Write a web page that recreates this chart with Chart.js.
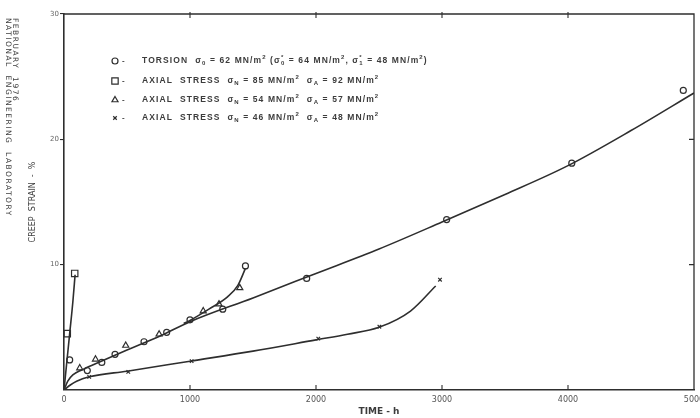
<!DOCTYPE html>
<html lang="en">
<head>
<meta charset="UTF-8">
<title>Creep strain vs time</title>
<script src="https://cdn.jsdelivr.net/npm/chart.js"></script>
<style>
  html, body { margin: 0; padding: 0; background: #fff; }
  #wrap { width: 700px; height: 418px; }
</style>
</head>
<body>
<div id="wrap"><canvas id="grafico"></canvas></div>
<script>
// --- data (time in h, creep strain in %) ---
// o  torsion, sigma0 = 62 MN/m2
const torsionTime   = [45, 185, 300, 405, 635, 815, 1000, 1260, 1440, 1926, 3037, 4030, 4915];
const torsionStrain = [2.4, 1.55, 2.2, 2.85, 3.85, 4.6, 5.6, 6.45, 9.9, 8.9, 13.6, 18.1, 23.9];
const torsionFitTime   = [0, 30, 70, 140, 250, 500, 750, 1000, 1500, 2000, 2500, 3000, 3500, 4000, 4500, 5000];
const torsionFitStrain = [0, 0.7, 1.2, 1.6, 2.1, 3.2, 4.25, 5.45, 7.35, 9.3, 11.25, 13.4, 15.6, 17.9, 20.7, 23.7];

// []  axial stress 85 / 92 MN/m2
const squareTime   = [26, 85];
const squareStrain = [4.5, 9.3];
const squareFitTime   = [0, 20, 45, 70, 88];
const squareFitStrain = [0, 2.0, 4.5, 7.0, 9.2];

// /\  axial stress 54 / 57 MN/m2
const triTime   = [125, 250, 490, 755, 1105, 1230, 1395];
const triStrain = [1.75, 2.45, 3.55, 4.45, 6.3, 6.85, 8.15];
const triFitTime   = [950, 1000, 1150, 1300, 1380, 1440];
const triFitStrain = [5.3, 5.55, 6.45, 7.45, 8.35, 9.7];

// x  axial stress 46 / 48 MN/m2
const crossTime   = [200, 510, 1013, 2018, 2503, 2984];
const crossStrain = [1.05, 1.45, 2.3, 4.1, 5.05, 8.8];
const crossFitTime   = [0, 50, 100, 200, 500, 1000, 1500, 2000, 2250, 2500, 2750, 2950];
const crossFitStrain = [0, 0.4, 0.7, 1.05, 1.5, 2.3, 3.1, 4.0, 4.45, 5.0, 6.3, 8.3];

const xTicks = [0, 1000, 2000, 3000, 4000, 5000];
const yTicks = [0, 10, 20, 30];

const ink = '#2e2e2e';
const txt = '#3c3c3c';
const pts = (xs, ys) => xs.map((x, i) => ({ x: x, y: ys[i] }));

function curve(xs, ys) {
    return {
        data: pts(xs, ys), showLine: true, pointRadius: 0,
        borderColor: ink, borderWidth: 1.6,
        cubicInterpolationMode: 'monotone'
    };
}
function marks(xs, ys, style, r) {
    return {
        data: pts(xs, ys), showLine: false, pointStyle: style,
        pointRadius: r, pointBorderWidth: 1.2,
        borderColor: ink, backgroundColor: 'rgba(0,0,0,0)'
    };
}

// legend rows: parts are plain text, {sub}, {sup}
const legendRows = [
    { style: 'circle', r: 3, parts: ['TORSION  σ', {sub: '0'}, ' = 62 MN/m', {sup: '2'}, ' (σ', {sub: '0', sup: '*'}, ' = 64 MN/m', {sup: '2'}, ', σ', {sub: '1', sup: '*'}, ' = 48 MN/m', {sup: '2'}, ')'] },
    { style: 'rect', r: 4.5, parts: ['AXIAL  STRESS  σ', {sub: 'N'}, ' = 85 MN/m', {sup: '2'}, '  σ', {sub: 'A'}, ' = 92 MN/m', {sup: '2'}] },
    { style: 'triangle', r: 3.5, parts: ['AXIAL  STRESS  σ', {sub: 'N'}, ' = 54 MN/m', {sup: '2'}, '  σ', {sub: 'A'}, ' = 57 MN/m', {sup: '2'}] },
    { style: 'crossRot', r: 2.5, parts: ['AXIAL  STRESS  σ', {sub: 'N'}, ' = 46 MN/m', {sup: '2'}, '  σ', {sub: 'A'}, ' = 48 MN/m', {sup: '2'}] }
];

function drawRich(ctx, x, y, parts, px) {
    const big = 'bold ' + px + 'px "Liberation Sans"';
    const small = 'bold ' + Math.round(px * 0.72) + 'px "Liberation Sans"';
    parts.forEach(p => {
        if (typeof p === 'string') {
            ctx.font = big;
            ctx.fillText(p, x, y);
            x += ctx.measureText(p).width;
        } else {
            ctx.font = small;
            let w = 0;
            if (p.sub) { ctx.fillText(p.sub, x, y + px * 0.3); w = ctx.measureText(p.sub).width; }
            if (p.sup) { ctx.fillText(p.sup, x, y - px * 0.45); w = Math.max(w, ctx.measureText(p.sup).width); }
            x += w;
        }
    });
}

const extras = {
    id: 'extras',
    afterDraw(chart) {
        const ctx = chart.ctx;
        const {left, right, top, bottom} = chart.chartArea;
        const sx = chart.scales.x, sy = chart.scales.y;
        ctx.save();
        ctx.strokeStyle = ink;
        ctx.lineWidth = 1.3;
        // frame top + right
        ctx.beginPath();
        ctx.moveTo(left, top); ctx.lineTo(right, top); ctx.lineTo(right, bottom);
        ctx.stroke();
        // inward ticks
        ctx.lineWidth = 1.1;
        ctx.beginPath();
        sx.ticks.forEach(t => {
            if (t.value <= sx.min || t.value >= sx.max) return;
            const p = sx.getPixelForValue(t.value);
            ctx.moveTo(p, bottom); ctx.lineTo(p, bottom - 5);
            ctx.moveTo(p, top - 2); ctx.lineTo(p, top + 4);
        });
        sy.ticks.forEach(t => {
            if (t.value <= sy.min || t.value >= sy.max) return;
            const p = sy.getPixelForValue(t.value);
            ctx.moveTo(right, p); ctx.lineTo(right - 5, p);
        });
        ctx.stroke();

        // side imprint
        ctx.fillStyle = txt;
        ctx.textBaseline = 'middle';
        ctx.font = '7.5px "DejaVu Sans"';
        ctx.letterSpacing = '1.5px';
        ctx.save();
        ctx.translate(7.5, 18); ctx.rotate(Math.PI / 2);
        ctx.fillText('NATIONAL  ENGINEERING  LABORATORY', 0, 0);
        ctx.restore();
        ctx.save();
        ctx.translate(15, 18); ctx.rotate(Math.PI / 2);
        ctx.fillText('FEBRUARY  1976', 0, 0);
        ctx.restore();

        // legend
        ctx.letterSpacing = '1.1px';
        const rowY = [61, 81, 100, 118];
        legendRows.forEach((row, i) => {
            const y = rowY[i];
            ctx.lineWidth = 1.2;
            ctx.strokeStyle = ink;
            ctx.fillStyle = 'rgba(0,0,0,0)';
            Chart.helpers.drawPoint(ctx, { pointStyle: row.style, radius: row.r, borderWidth: 1.2, rotation: 0 }, 115, y);
            ctx.fillStyle = txt;
            ctx.font = 'bold 8px "Liberation Sans"';
            ctx.fillText('-', 122, y);
            drawRich(ctx, 142, y, row.parts, 8.5);
        });
        ctx.restore();
    }
};

const ctx = document.getElementById('grafico').getContext('2d');
const grafico = new Chart(ctx, {
    type: 'scatter',
    data: {
        datasets: [
            curve(torsionFitTime, torsionFitStrain),
            curve(squareFitTime, squareFitStrain),
            curve(triFitTime, triFitStrain),
            curve(crossFitTime, crossFitStrain),
            marks(torsionTime, torsionStrain, 'circle', 3),
            marks(squareTime, squareStrain, 'rect', 4.5),
            marks(triTime, triStrain, 'triangle', 3.5),
            marks(crossTime, crossStrain, 'crossRot', 2.5)
        ]
    },
    options: {
        responsive: true,
        maintainAspectRatio: false,
        animation: false,
        layout: { padding: { top: 14, right: 6, bottom: 0, left: 0 } },
        plugins: { legend: { display: false }, tooltip: { enabled: false } },
        scales: {
            x: {
                type: 'linear',
                min: xTicks[0], max: xTicks[xTicks.length - 1],
                border: { display: true, color: ink, width: 1.6 },
                grid: { drawOnChartArea: false, drawTicks: false },
                afterBuildTicks: s => { s.ticks = xTicks.map(v => ({ value: v })); },
                ticks: {
                    padding: 5, maxRotation: 0, color: '#555',
                    font: { family: 'DejaVu Sans', size: 8 },
                    callback: v => String(v)
                },
                title: {
                    display: true, text: 'TIME - h', color: txt,
                    font: { family: 'DejaVu Sans', size: 9, weight: 'bold' },
                    padding: { top: 0, bottom: 1 }
                },
                afterFit: s => { s.height = 28; s.paddingLeft = 0; s.paddingRight = 0; }
            },
            y: {
                type: 'linear',
                min: yTicks[0], max: yTicks[yTicks.length - 1],
                border: { display: true, color: ink, width: 1.6 },
                grid: {
                    drawOnChartArea: false, drawTicks: true, tickLength: 4, lineWidth: 1.1,
                    color: c => (c.tick && c.tick.value === 0) ? 'rgba(0,0,0,0)' : ink
                },
                afterBuildTicks: s => { s.ticks = yTicks.map(v => ({ value: v })); },
                ticks: {
                    padding: 1, color: '#666', font: { family: 'DejaVu Sans', size: 7 },
                    callback: v => v === 0 ? '' : String(v)
                },
                title: {
                    display: true, text: 'CREEP  STRAIN  -  %', color: txt,
                    font: { family: 'DejaVu Sans', size: 8 },
                    padding: { top: 28, bottom: 0 }
                },
                afterFit: s => { s.width = 64; s.paddingTop = 0; s.paddingBottom = 0; }
            }
        }
    },
    plugins: [extras]
});
</script>
</body>
</html>
